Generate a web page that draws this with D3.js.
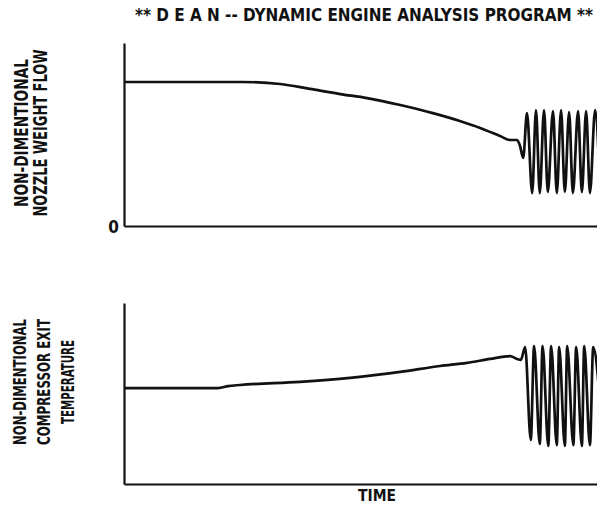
<!DOCTYPE html>
<html>
<head>
<meta charset="utf-8">
<script src="https://cdn.jsdelivr.net/npm/d3@7"></script>
<style>
  body { margin: 0; background: #fff; }
  text { font-family: "Liberation Sans Narrow", "DejaVu Sans Condensed", sans-serif; font-weight: bold; fill: #111; }
</style>
</head>
<body>
<svg id="chart" width="597" height="510"></svg>
<script>
// time axis is arbitrary, 0..100 across the plot width
var timeTop = [0, 14, 25, 33, 39.3, 45.7, 51.4, 58.4, 65.3, 71, 75.3, 79.5, 81.6, 83.1, 83.7, 84.4,
  85.2, 86.3, 87.1, 87.9, 88.8, 89.6, 90.7, 91.5, 92.4, 93.2, 94.1, 94.9, 96.0, 96.8, 97.7, 98.5, 99.6, 100.5];
var nozzleFlow = [0.787, 0.787, 0.787, 0.776, 0.749, 0.721, 0.699, 0.661, 0.617, 0.574, 0.536, 0.492, 0.470, 0.470, 0.44, 0.372,
  0.617, 0.18, 0.634, 0.18, 0.634, 0.186, 0.628, 0.18, 0.634, 0.186, 0.623, 0.18, 0.628, 0.186, 0.628, 0.18, 0.634, 0.3];

var timeBot = [0, 19.9, 22.0, 24.5, 37.2, 47.8, 58.4, 66.8, 72.5, 77.4, 81.6, 83.1, 83.9, 84.8,
  86.0, 86.7, 87.9, 88.5, 89.7, 90.3, 91.5, 92.0, 93.2, 93.7, 95.0, 95.6, 96.8, 97.3, 98.5, 99.2, 100.5];
var compTemp = [0.530, 0.530, 0.541, 0.547, 0.564, 0.586, 0.619, 0.652, 0.669, 0.691, 0.707, 0.691, 0.685, 0.757,
  0.243, 0.762, 0.221, 0.762, 0.210, 0.762, 0.215, 0.757, 0.210, 0.762, 0.215, 0.757, 0.210, 0.762, 0.215, 0.757, 0.5];

var title = '** D E A N -- DYNAMIC ENGINE ANALYSIS PROGRAM **';
var topLabel = ['NON-DIMENTIONAL', 'NOZZLE WEIGHT FLOW'];
var botLabel = ['NON-DIMENTIONAL', 'COMPRESSOR EXIT', 'TEMPERATURE'];
var xLabel = 'TIME';

var svg = d3.select('#chart');

var x = d3.scaleLinear().domain([0, 100]).range([124, 597]);
var yTop = d3.scaleLinear().domain([0, 1]).range([226, 43]);
var yBot = d3.scaleLinear().domain([0, 1]).range([484, 303]);

function drawPanel(yScale, times, values, showZero) {
  var g = svg.append('g');

  var yAxis = d3.axisLeft(yScale).tickSizeOuter(0).tickSize(0).tickPadding(5)
    .tickValues(showZero ? [0] : []).tickFormat(d3.format('d'));
  var ga = g.append('g').attr('transform', 'translate(' + x(0) + ',0)').call(yAxis);
  ga.select('.domain').attr('stroke', '#111').attr('stroke-width', 2.2);
  ga.selectAll('text').style('font-size', '17px').attr('dy', '0.4em');

  var xAxis = d3.axisBottom(x).tickValues([]).tickSizeOuter(0);
  var gx = g.append('g').attr('transform', 'translate(0,' + yScale(0) + ')').call(xAxis);
  gx.select('.domain').attr('stroke', '#111').attr('stroke-width', 2.2);

  var pts = times.map(function(t, i) { return [t, values[i]]; });
  var line = d3.line()
    .x(function(d) { return x(d[0]); })
    .y(function(d) { return yScale(d[1]); })
    .curve(d3.curveMonotoneX);

  g.append('path')
    .datum(pts)
    .attr('fill', 'none')
    .attr('stroke', '#111')
    .attr('stroke-width', 2.7)
    .attr('stroke-linejoin', 'round')
    .attr('d', line);
}

drawPanel(yTop, timeTop, nozzleFlow, true);
drawPanel(yBot, timeBot, compTemp, false);

svg.append('text')
  .attr('x', 135).attr('y', 21)
  .attr('textLength', 458).attr('lengthAdjust', 'spacingAndGlyphs')
  .style('font-size', '17px')
  .text(title);

svg.append('text')
  .attr('x', 377).attr('y', 501)
  .attr('text-anchor', 'middle')
  .attr('textLength', 38).attr('lengthAdjust', 'spacingAndGlyphs')
  .style('font-size', '16px')
  .text(xLabel);

function yLabel(lines, xs, cy, lens, size) {
  lines.forEach(function(s, i) {
    svg.append('text')
      .attr('transform', 'translate(' + xs[i] + ',' + cy + ') rotate(-90)')
      .attr('text-anchor', 'middle')
      .attr('dy', '0.36em')
      .attr('textLength', lens[i]).attr('lengthAdjust', 'spacingAndGlyphs')
      .style('font-size', size + 'px')
      .text(s);
  });
}

yLabel(topLabel, [21, 40], 133, [148, 167], 19);
yLabel(botLabel, [20, 44, 68], 382, [126, 126, 84], 18);
</script>
</body>
</html>
